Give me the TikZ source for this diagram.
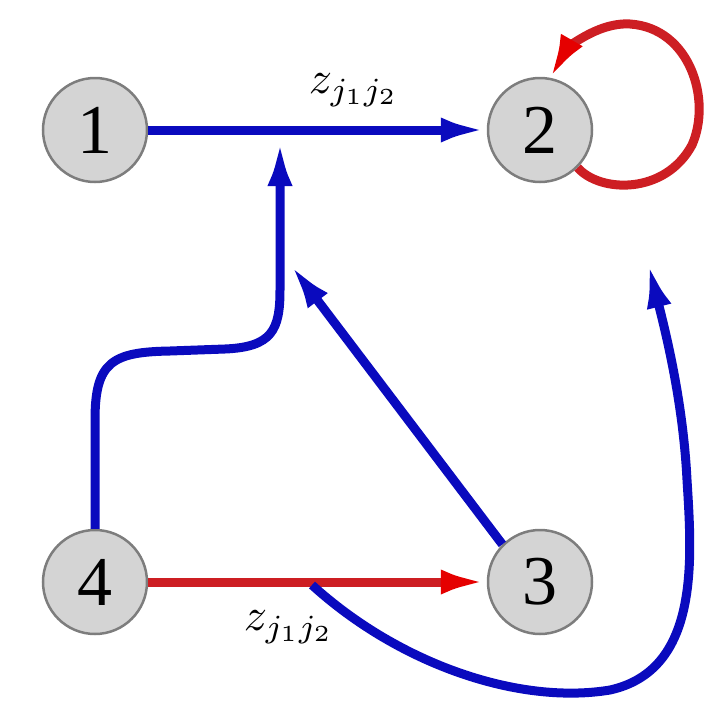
\documentclass[tikz,border=0pt]{standalone}
\usepackage{fontspec}
\newfontfamily\numfont{Liberation Serif}
\usetikzlibrary{arrows.meta}
\definecolor{dblue}{RGB}{10,10,190}
\definecolor{dred}{RGB}{205,30,35}
\definecolor{nodefill}{RGB}{212,212,212}
\definecolor{nodeline}{RGB}{125,125,125}
\tikzset{
  vert/.style={circle, draw=nodeline, line width=2.5pt, fill=nodefill, minimum size=104pt, inner sep=0pt, font=\numfont\fontsize{70}{70}\selectfont},
  bluearrow/.style={draw=dblue, line width=9pt, -{Latex[length=46pt,width=25pt]}},
  redarrow/.style={draw=dred, line width=9pt, -{Latex[length=46pt,width=25pt,color=red!90!black]}},
  lbl/.style={inner sep=0pt}
}
\begin{document}
\begin{tikzpicture}[x=1pt,y=-1pt]
\useasboundingbox (0,0) rectangle (715,707);
\node[vert] (n1) at (95,130) {1};
\node[vert] (n2) at (540,130) {2};
\node[vert] (n4) at (95,582) {4};
\node[vert] (n3) at (540,582) {3};
\coordinate (j1) at (280,140);
\coordinate (j2) at (290,264);
\coordinate (s1) at (312,585);
\coordinate (t2) at (648,262);
% red arrow 4 -> 3
\draw[redarrow] (n4.east) -- (n3.west);
% blue curve from red line to below node 2
\draw[bluearrow] (s1) .. controls (400,665) and (520,705) .. (610,690)
  .. controls (700,670) and (692,560) .. (687,480) .. controls (683,400) and (665,330) .. (t2);
% 1 -> 2
\draw[bluearrow] (n1.east) -- (n2.west);
% 4 -> junction
\draw[bluearrow] (n4.north) -- (95,420) .. controls (95,362) and (112,352) .. (170,351)
  -- (225,349) .. controls (272,347) and (280,330) .. (280,290) -- (j1);
% 3 -> junction
\draw[bluearrow] (n3.north west) -- (j2);
% self-loop on 2
\draw[redarrow] (n2.-45) .. controls (600,193) and (665,195) .. (692,145)
  .. controls (712,100) and (690,28) .. (630,24) .. controls (595,22) and (565,52) .. (549,80);
% labels
\node[lbl] (l1) at (354,90) {\scalebox{4.6}{$z_{j_1j_2}$}};
\node[lbl] (l2) at (289,627) {\scalebox{4.6}{$z_{j_1j_2}$}};
\end{tikzpicture}
\end{document}
